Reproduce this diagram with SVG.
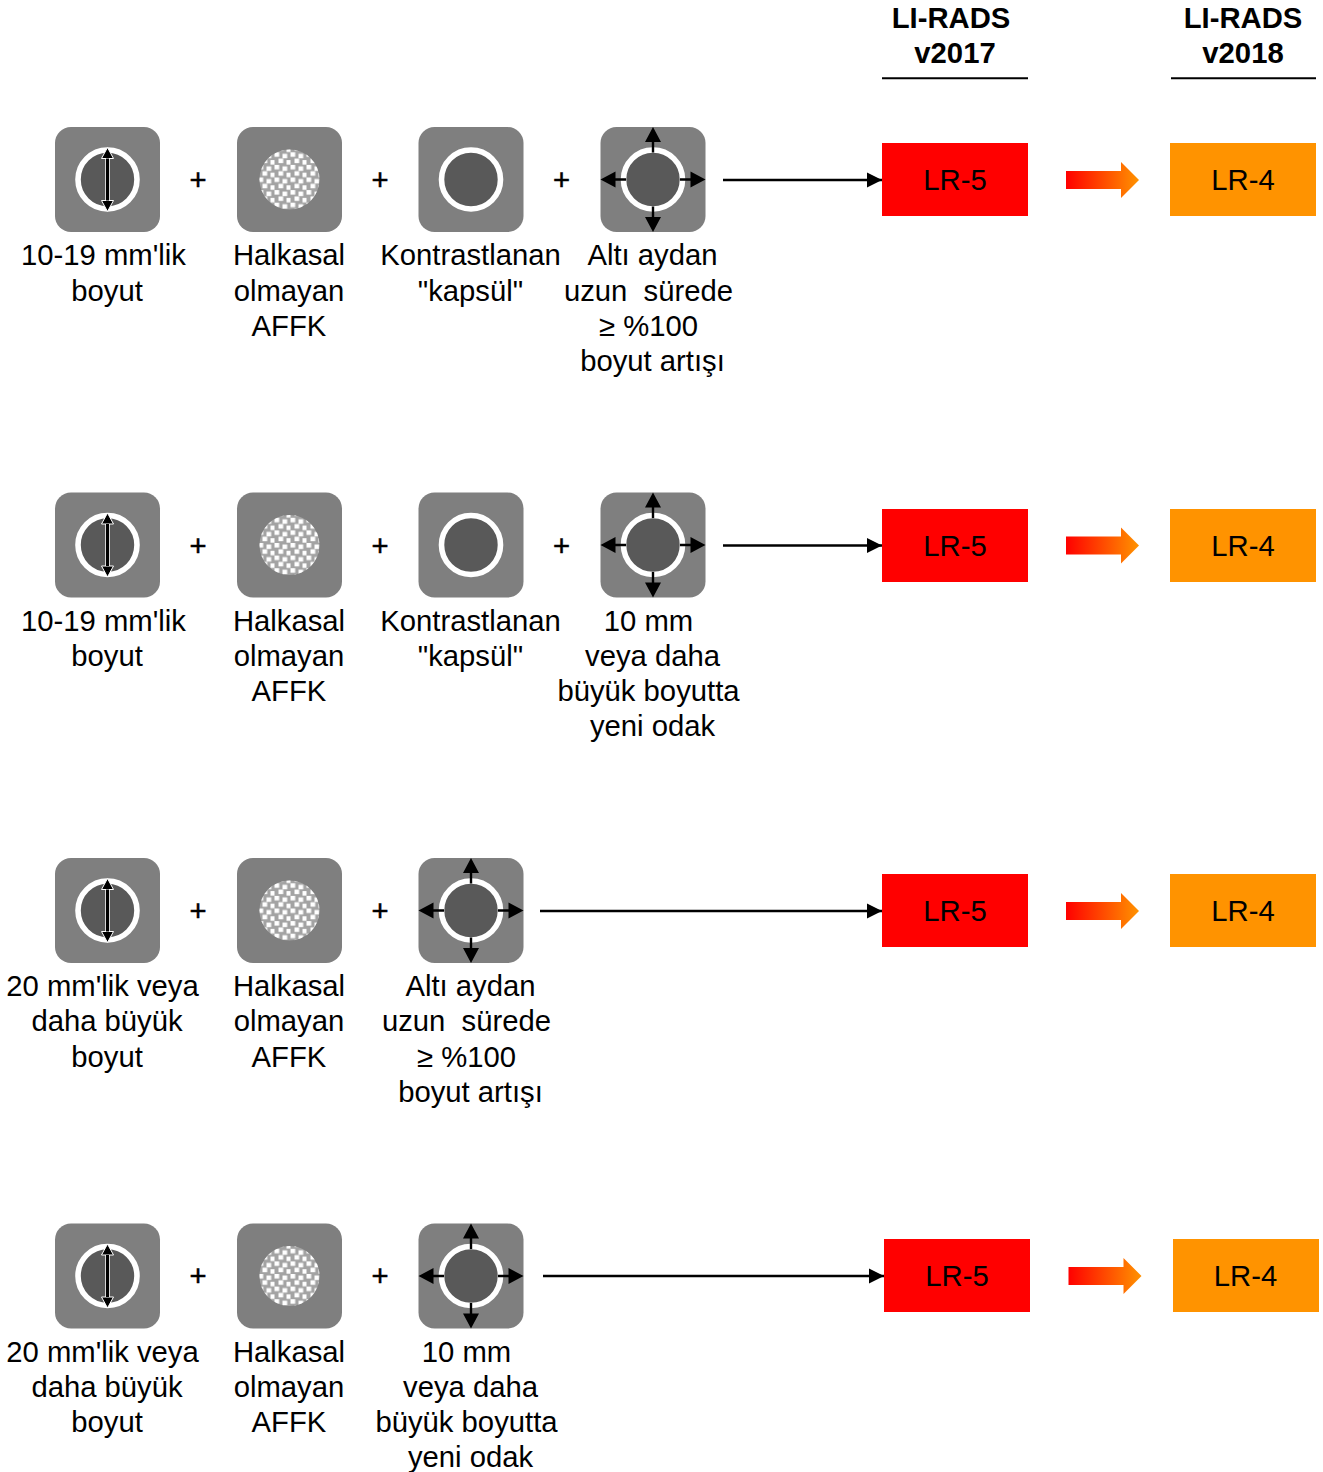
<svg xmlns="http://www.w3.org/2000/svg" width="1323" height="1472" viewBox="0 0 1323 1472">
<style>
text{font-family:"Liberation Sans",Arial,sans-serif;font-size:29.25px;fill:#000;text-anchor:middle}
.h{font-weight:bold}
.p{stroke:#000;stroke-width:.5}
.sq{fill:#7f7f7f}
.ring{fill:#595959;stroke:#fff;stroke-width:5.6}
.c{stroke:#000;stroke-width:2.4;fill:none;marker-end:url(#ah)}
.r{fill:#f00}.o{fill:#ff9300}
</style>
<defs>
<marker id="ah" markerUnits="userSpaceOnUse" markerWidth="16" markerHeight="16" refX="15" refY="8" orient="auto"><path d="M0 0.5L15 8L0 15.5Z" fill="#000"/></marker>
<linearGradient id="g"><stop offset="0" stop-color="#f00"/><stop offset="1" stop-color="#ff9300"/></linearGradient>
<pattern id="chk" width="16" height="12.6" patternUnits="userSpaceOnUse" x="1" y="-2">
<rect x="0" y="0" width="4.700" height="4.500" fill="#fff"/><rect x="8" y="1.500" width="4.700" height="4.500" fill="#fff"/>
<rect x="4" y="6.300" width="4.700" height="4.500" fill="#fff"/><rect x="12" y="7.800" width="4.700" height="4.500" fill="#fff"/>
</pattern>
<g id="size"><rect class="sq" x="-52.5" y="-52.5" width="105" height="105" rx="16"/><circle class="ring" r="29.5"/>
<path d="M0-21V21" stroke="#fff" stroke-width="4.500"/><path d="M0-32L6-21H-6ZM0 32L6 21H-6Z" fill="#000" stroke="#fff" stroke-width="1"/><path d="M0-21V21" stroke="#000" stroke-width="3"/></g>
<g id="aphe"><rect class="sq" x="-52.5" y="-52.5" width="105" height="105" rx="16"/><circle r="30" fill="#a3a3a3"/><circle r="30" fill="url(#chk)"/></g>
<g id="caps"><rect class="sq" x="-52.5" y="-52.5" width="105" height="105" rx="16"/><circle class="ring" r="29.5"/></g>
<g id="grow"><rect class="sq" x="-52.5" y="-52.5" width="105" height="105" rx="16"/><circle class="ring" r="29.5"/>
<path d="M0-27V-40M0 27V40M-27 0H-40M27 0H40" stroke="#000" stroke-width="2.400"/>
<path d="M0-52.5L8-37.500H-8ZM0 52.5L8 37.500H-8ZM-52.5 0L-37.500 8V-8ZM52.5 0L37.500 8V-8Z" fill="#000"/></g>
<g id="thick"><path d="M0-9H55V-18L73 0L55 18V9H0Z" fill="url(#g)"/></g>
</defs>

<g id="header-2017"><text class="h" x="951" y="28">LI-RADS</text><text class="h" x="955" y="63">v2017</text><path d="M882 78.300H1028" stroke="#000" stroke-width="2"/></g>
<g id="header-2018"><text class="h" x="1243" y="28">LI-RADS</text><text class="h" x="1243" y="63">v2018</text><path d="M1171 78.300H1316" stroke="#000" stroke-width="2"/></g>

<g id="connectors">
<path class="c" d="M723 180H882"/><path class="c" d="M723 545.5H882"/><path class="c" d="M540 911H882"/><path class="c" d="M543 1276H884"/>
<use href="#thick" x="1066" y="180"/><use href="#thick" x="1066" y="545.5"/><use href="#thick" x="1066" y="911"/><use href="#thick" x="1068.500" y="1276"/>
</g>

<g id="row1">
<g id="r1-size"><use href="#size" x="107.500" y="179.500"/><text x="103.500" y="265">10-19 mm'lik</text><text x="107" y="301">boyut</text></g>
<text class="p" x="198" y="190">+</text>
<g id="r1-aphe"><use href="#aphe" x="289.500" y="179.500"/><text x="289" y="265">Halkasal</text><text x="289" y="301">olmayan</text><text x="289" y="336">AFFK</text></g>
<text class="p" x="380" y="190">+</text>
<g id="r1-caps"><use href="#caps" x="471" y="179.500"/><text x="470.500" y="265">Kontrastlanan</text><text x="470.500" y="301">"kapsül"</text></g>
<text class="p" x="561.500" y="190">+</text>
<g id="r1-grow"><use href="#grow" x="653" y="179.500"/><text x="652.500" y="265">Altı aydan</text><text x="648.500" y="301" xml:space="preserve">uzun  sürede</text><text x="648.500" y="336">≥ %100</text><text x="652.500" y="371">boyut artışı</text></g>
</g>
<g id="r1-out"><rect class="r" x="882" y="143" width="146" height="73"/><text x="955" y="190">LR-5</text><rect class="o" x="1170" y="143" width="146" height="73"/><text x="1243" y="190">LR-4</text></g>

<g id="row2">
<g id="r2-size"><use href="#size" x="107.500" y="545"/><text x="103.500" y="631">10-19 mm'lik</text><text x="107" y="666">boyut</text></g>
<text class="p" x="198" y="556">+</text>
<g id="r2-aphe"><use href="#aphe" x="289.500" y="545"/><text x="289" y="631">Halkasal</text><text x="289" y="666">olmayan</text><text x="289" y="701">AFFK</text></g>
<text class="p" x="380" y="556">+</text>
<g id="r2-caps"><use href="#caps" x="471" y="545"/><text x="470.500" y="631">Kontrastlanan</text><text x="470.500" y="666">"kapsül"</text></g>
<text class="p" x="561.500" y="556">+</text>
<g id="r2-grow"><use href="#grow" x="653" y="545"/><text x="648.500" y="631">10 mm</text><text x="652.500" y="666">veya daha</text><text x="648.500" y="701">büyük boyutta</text><text x="652.500" y="736">yeni odak</text></g>
</g>
<g id="r2-out"><rect class="r" x="882" y="509" width="146" height="73"/><text x="955" y="555.500">LR-5</text><rect class="o" x="1170" y="509" width="146" height="73"/><text x="1243" y="555.500">LR-4</text></g>

<g id="row3">
<g id="r3-size"><use href="#size" x="107.500" y="910.500"/><text x="102.500" y="996">20 mm'lik veya</text><text x="107" y="1031">daha büyük</text><text x="107" y="1067">boyut</text></g>
<text class="p" x="198" y="921">+</text>
<g id="r3-aphe"><use href="#aphe" x="289.500" y="910.500"/><text x="289" y="996">Halkasal</text><text x="289" y="1031">olmayan</text><text x="289" y="1067">AFFK</text></g>
<text class="p" x="380" y="921">+</text>
<g id="r3-grow"><use href="#grow" x="471" y="910.500"/><text x="470.500" y="996">Altı aydan</text><text x="466.500" y="1031" xml:space="preserve">uzun  sürede</text><text x="466.500" y="1067">≥ %100</text><text x="470.500" y="1102">boyut artışı</text></g>
</g>
<g id="r3-out"><rect class="r" x="882" y="874" width="146" height="73"/><text x="955" y="920.500">LR-5</text><rect class="o" x="1170" y="874" width="146" height="73"/><text x="1243" y="920.500">LR-4</text></g>

<g id="row4">
<g id="r4-size"><use href="#size" x="107.500" y="1276"/><text x="102.500" y="1362">20 mm'lik veya</text><text x="107" y="1397">daha büyük</text><text x="107" y="1432">boyut</text></g>
<text class="p" x="198" y="1286">+</text>
<g id="r4-aphe"><use href="#aphe" x="289.500" y="1276"/><text x="289" y="1362">Halkasal</text><text x="289" y="1397">olmayan</text><text x="289" y="1432">AFFK</text></g>
<text class="p" x="380" y="1286">+</text>
<g id="r4-grow"><use href="#grow" x="471" y="1276"/><text x="466.500" y="1362">10 mm</text><text x="470.500" y="1397">veya daha</text><text x="466.500" y="1432">büyük boyutta</text><text x="470.500" y="1467">yeni odak</text></g>
</g>
<g id="r4-out"><rect class="r" x="884" y="1239" width="146" height="73"/><text x="957" y="1286">LR-5</text><rect class="o" x="1173" y="1239" width="146" height="73"/><text x="1245.500" y="1286">LR-4</text></g>
</svg>
